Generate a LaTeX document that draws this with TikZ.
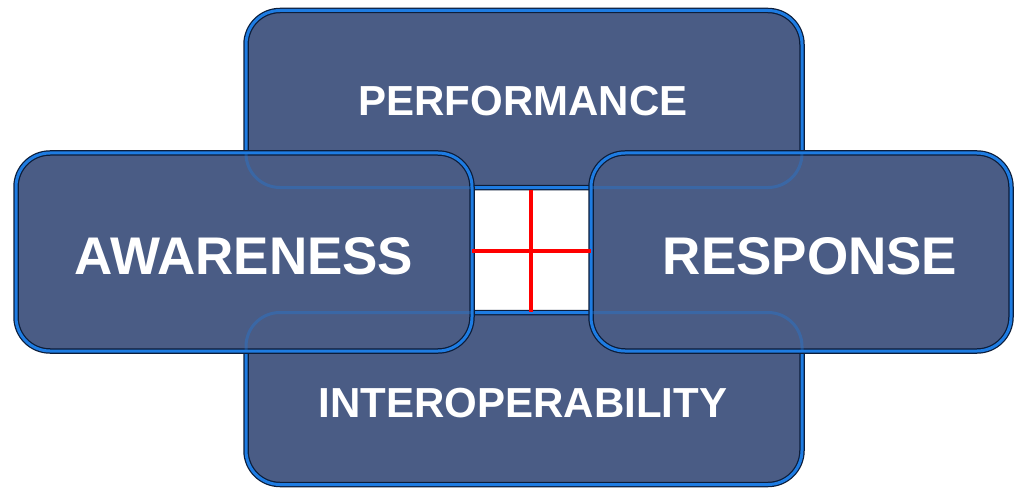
\documentclass[tikz,border=0pt]{standalone}
\usepackage{fontspec}
\setmainfont{Liberation Sans}
\definecolor{boxfill}{HTML}{4A5C85}
\definecolor{edgeblue}{HTML}{1E7CE2}
\definecolor{edgedark}{HTML}{0C1D3A}
\definecolor{crossred}{HTML}{FF0000}
\tikzset{
  panel/.style={rectangle, rounded corners=34pt, inner sep=0pt, outer sep=0pt,
    fill=boxfill, draw=edgedark, line width=5.5pt,
    postaction={draw=edgeblue, line width=3pt}},
  ghost/.style={rounded corners=34pt, draw=edgeblue, line width=3pt, draw opacity=0.35},
  biglabel/.style={text=white, font=\bfseries\fontsize{53}{60}\selectfont, inner sep=0pt},
  smalllabel/.style={text=white, font=\bfseries\fontsize{42}{48}\selectfont, inner sep=0pt},
  crossline/.style={draw=crossred, line width=4pt}
}
\begin{document}
\begin{tikzpicture}[x=1pt,y=-1pt]
\useasboundingbox (0,0) rectangle (1016,489);
\fill[white] (0,0) rectangle (1016,489);
% top and bottom panels
\node[panel, minimum width=556pt, minimum height=177pt] (perf) at (524,99) {};
\node[panel, minimum width=556pt, minimum height=172pt] (inter) at (524,398.5) {};
% side panels
\node[panel, minimum width=456pt, minimum height=198pt] (aware) at (244,252) {};
\node[panel, minimum width=420pt, minimum height=198pt] (resp) at (801,252) {};
% edges of the top and bottom panels seen through the side panels
\begin{scope}
  \clip[rounded corners=34pt] (aware.north west) rectangle (aware.south east)
        [rounded corners=34pt] (resp.north west) rectangle (resp.south east);
  \draw[ghost] (perf.north west) rectangle (perf.south east);
  \draw[ghost] (inter.north west) rectangle (inter.south east);
\end{scope}
% labels
\node[smalllabel] (tperf) at (523,101) {PERFORMANCE};
\node[smalllabel] (tinter) at (523,403) {INTEROPERABILITY};
\node[biglabel] (taware) at (244,256) {AWARENESS};
\node[biglabel] (tresp) at (810,256) {RESPONSE};
% red cross
\coordinate (ctop) at (531,190);
\coordinate (cbot) at (531,312);
\draw[crossline] (ctop) -- (cbot);
\draw[crossline] (aware.east |- 0,251) -- (resp.west |- 0,251);
\end{tikzpicture}
\end{document}
